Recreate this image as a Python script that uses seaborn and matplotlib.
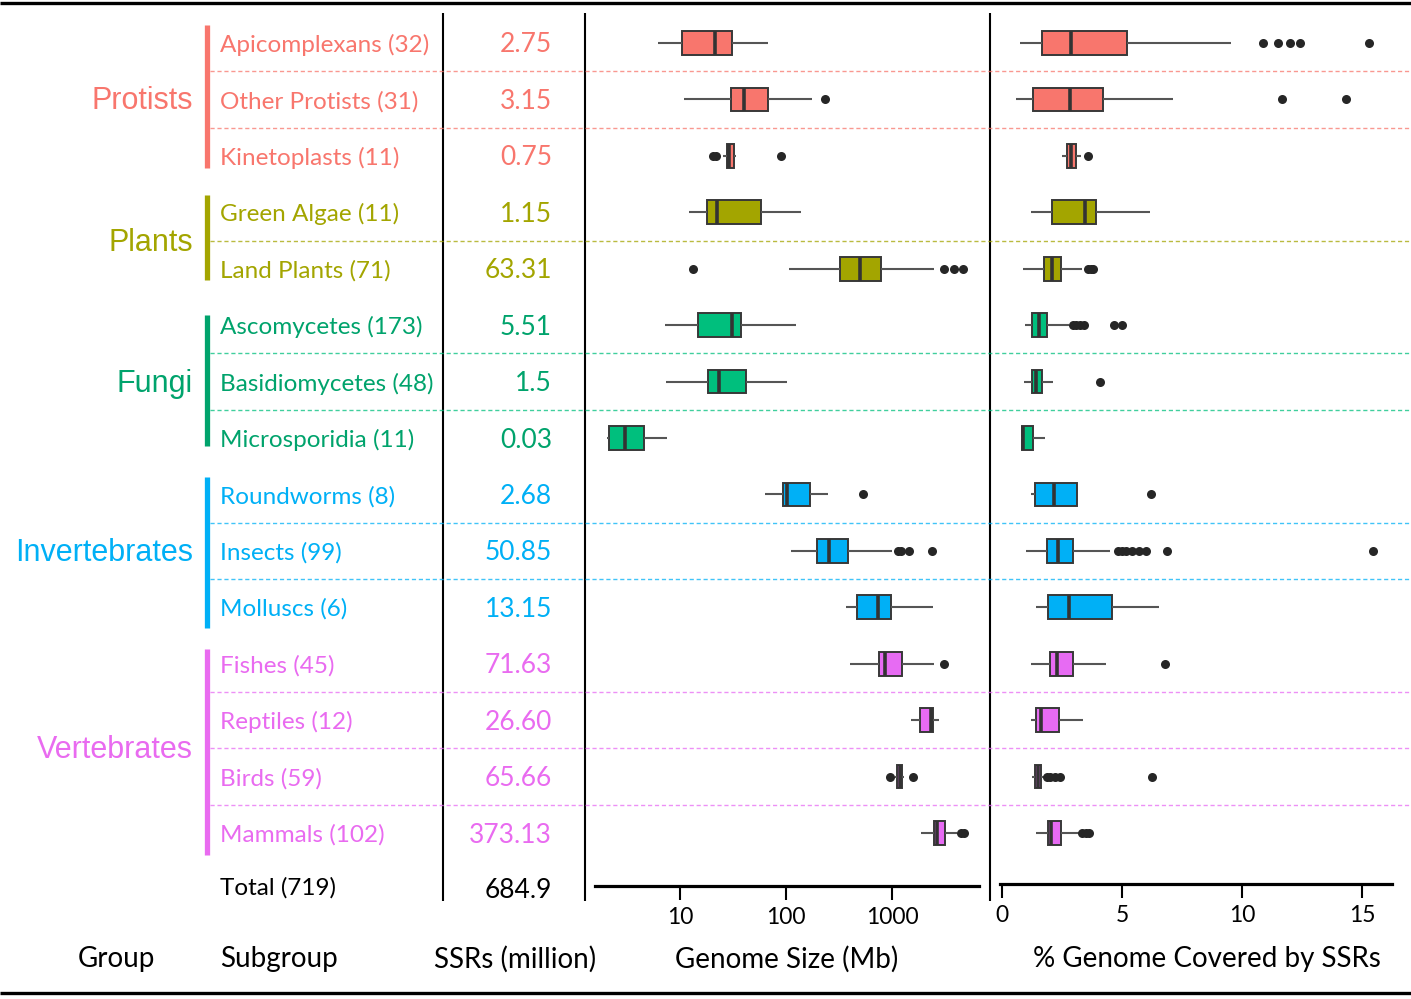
import matplotlib
matplotlib.use("Agg")
import matplotlib.pyplot as plt
from matplotlib.ticker import NullLocator
import pandas as pd
import seaborn as sns

# ---------------------------------------------------------------- data
groups = ["Protists", "Plants", "Fungi", "Invertebrates", "Vertebrates"]
group_text_colors = ["#F8766D", "#A3A500", "#00A36C", "#00B0F6", "#E96BF0"]
group_box_colors = ["#F8766D", "#A3A500", "#00BF7D", "#00B0F6", "#E76BF3"]

subgroups = ["Apicomplexans", "Other Protists", "Kinetoplasts",
             "Green Algae", "Land Plants",
             "Ascomycetes", "Basidiomycetes", "Microsporidia",
             "Roundworms", "Insects", "Molluscs",
             "Fishes", "Reptiles", "Birds", "Mammals"]
subgroup_group = [0, 0, 0, 1, 1, 2, 2, 2, 3, 3, 3, 4, 4, 4, 4]
genome_counts = [32, 31, 11, 11, 71, 173, 48, 11, 8, 99, 6, 45, 12, 59, 102]
ssr_million = ["2.75", "3.15", "0.75", "1.15", "63.31", "5.51", "1.5", "0.03",
               "2.68", "50.85", "13.15", "71.63", "26.60", "65.66", "373.13"]
total_genomes = 719
total_ssr = "684.9"

# genome size (Mb): whisker low, Q1, median, Q3, whisker high
genome_size_summary = [
    (6.2, 10.4, 21.4, 30.9, 67.6),
    (10.9, 30.3, 40.2, 67.6, 176),
    (25.5, 27.8, 29.0, 32.3, 34.0),
    (12.2, 18.0, 22.3, 58.1, 138),
    (107, 323, 499, 787, 2490),
    (7.2, 14.7, 30.8, 37.6, 124),
    (7.4, 18.4, 23.3, 42.0, 102),
    (2.05, 2.14, 3.03, 4.57, 7.5),
    (63.4, 93.8, 102, 168, 249),
    (111, 196, 254, 385, 1000),
    (368, 468, 738, 979, 2440),
    (402, 754, 859, 1242, 2490),
    (1510, 1836, 2350, 2437, 2776),
    (1067, 1114, 1189, 1242, 1297),
    (1879, 2489, 2660, 3163, 4103),
]
genome_size_outliers = [
    [], [233], [20.5, 21.9, 89.8], [], [13.3, 3090, 3850, 4680],
    [], [], [], [532], [1140, 1217, 1446, 2384],
    [], [3090], [], [957, 1577], [4480, 4780],
]

# % genome covered by SSRs: whisker low, Q1, median, Q3, whisker high
ssr_cover_summary = [
    (0.75, 1.68, 2.86, 5.19, 9.54),
    (0.60, 1.31, 2.83, 4.21, 7.11),
    (2.50, 2.69, 2.86, 3.07, 3.29),
    (1.19, 2.10, 3.46, 3.90, 6.17),
    (0.875, 1.75, 2.08, 2.44, 3.35),
    (0.94, 1.24, 1.54, 1.89, 2.80),
    (0.90, 1.24, 1.40, 1.67, 2.14),
    (0.79, 0.85, 0.87, 1.31, 1.80),
    (1.22, 1.39, 2.15, 3.13, 3.13),
    (1.01, 1.89, 2.35, 2.97, 4.50),
    (1.42, 1.92, 2.79, 4.60, 6.54),
    (1.22, 2.01, 2.30, 2.96, 4.35),
    (1.22, 1.40, 1.61, 2.38, 3.39),
    (1.24, 1.39, 1.51, 1.63, 1.75),
    (1.42, 1.93, 2.05, 2.47, 3.25),
]
ssr_cover_outliers = [
    [10.88, 11.49, 11.99, 12.43, 15.3], [11.65, 14.33], [3.58], [],
    [3.6, 3.7, 3.8],
    [2.97, 3.1, 3.25, 3.4, 4.67, 5.01], [4.1], [],
    [6.21], [4.85, 5.0, 5.15, 5.4, 5.71, 6.0, 6.87, 15.46], [],
    [6.79], [], [1.86, 2.0, 2.2, 2.4, 6.26], [3.32, 3.5, 3.62],
]

column_headers = ["Group", "Subgroup", "SSRs (million)",
                  "Genome Size (Mb)", "% Genome Covered by SSRs"]

# ---------------------------------------------------------------- style
sns.set_style("white")
plt.rcParams["font.family"] = ["Lato", "DejaVu Sans"]
GROUP_FONT = ["Liberation Sans", "DejaVu Sans"]

W, H = 1411, 999
fig = plt.figure(figsize=(W / 100, H / 100), dpi=100)

# pixel-space canvas for the table part
bg = fig.add_axes([0, 0, 1, 1], zorder=0)
bg.set_xlim(0, W)
bg.set_ylim(H, 0)
bg.axis("off")

ROW0, ROW_STEP = 43.0, 56.43
TXT_DY = 2.0  # optical centring of text on a row


def row_y(i):
    return ROW0 + ROW_STEP * i


# table frame lines
bg.plot([0, W], [2.5, 2.5], color="black", lw=2.4, solid_capstyle="butt")
bg.plot([0, W], [993, 993], color="black", lw=2.4, solid_capstyle="butt")
for xv in (443, 585, 990):
    bg.plot([xv, xv], [13, 901], color="black", lw=1.5, solid_capstyle="butt")

# group labels and side bars
bar_spans = [(25, 168), (195, 280), (315, 446), (477, 628), (649, 855)]
for g, name in enumerate(groups):
    rows = [i for i, gg in enumerate(subgroup_group) if gg == g]
    yc = (row_y(rows[0]) + row_y(rows[-1])) / 2
    bg.text(193, yc + TXT_DY, name, ha="right", va="center", fontsize=22,
            color=group_text_colors[g], family=GROUP_FONT)
    top, bot = bar_spans[g]
    bg.plot([206.5, 206.5], [top, bot], color=group_text_colors[g], lw=3.8,
            solid_capstyle="butt")
    # dashed separators between subgroups of the same group
    for a, b in zip(rows[:-1], rows[1:]):
        ys = (row_y(a) + row_y(b)) / 2
        bg.plot([210, W], [ys, ys], color=group_box_colors[g], lw=1.0,
                alpha=0.75, dashes=(3, 2))

# subgroup names and SSR counts
for i, (name, n, s) in enumerate(zip(subgroups, genome_counts, ssr_million)):
    col = group_text_colors[subgroup_group[i]]
    bg.text(220, row_y(i) + TXT_DY, f"{name} ({n})", ha="left", va="center",
            fontsize=17.5, color=col)
    bg.text(552, row_y(i) + TXT_DY, s, ha="right", va="center", fontsize=19,
            color=col)

bg.text(220, 888, f"Total ({total_genomes})", ha="left", va="center",
        fontsize=17.5, color="black")
bg.text(552, 890, total_ssr, ha="right", va="center", fontsize=19,
        color="black")

# column headers
header_pos = [(116, "center"), (220, "left"), (515, "center"),
              (787, "center"), (1207, "center")]
for text, (xh, ha) in zip(column_headers, header_pos):
    bg.text(xh, 959, text, ha=ha, va="center", fontsize=20, color="black")


# ---------------------------------------------------------------- box panels
palette = {s: group_box_colors[g] for s, g in zip(subgroups, subgroup_group)}


def long_frame(summary):
    recs = [(s, v) for s, five in zip(subgroups, summary) for v in five]
    return pd.DataFrame(recs, columns=["subgroup", "value"])


def outlier_frame(outs):
    recs = [(s, v) for s, vals in zip(subgroups, outs) for v in vals]
    return pd.DataFrame(recs, columns=["subgroup", "value"])


def px_axes(x0, x1, y_top, y_bot):
    return fig.add_axes([x0 / W, 1 - y_bot / H, (x1 - x0) / W, (y_bot - y_top) / H],
                        zorder=2)


def draw_panel(ax, summary, outs, log):
    sns.boxplot(data=long_frame(summary), x="value", y="subgroup",
                hue="subgroup", order=subgroups, hue_order=subgroups,
                palette=palette, saturation=1, whis=(0, 100), width=0.42,
                showfliers=False, showcaps=False, linecolor="#383838",
                linewidth=1.4, legend=False, log_scale=log, ax=ax,
                medianprops=dict(color="#333333", linewidth=2.6),
                whiskerprops=dict(color="#555555", linewidth=1.5))
    sns.stripplot(data=outlier_frame(outs), x="value", y="subgroup",
                  order=subgroups, jitter=False, color="#262626", size=6.5,
                  linewidth=0, log_scale=log, ax=ax)
    ax.patch.set_alpha(0)
    for side in ("top", "right", "left"):
        ax.spines[side].set_visible(False)
    ax.spines["bottom"].set_linewidth(2.3)
    ax.spines["bottom"].set_color("black")
    ax.set_yticks([])
    ax.set_xlabel("")
    ax.set_ylabel("")
    ax.xaxis.set_minor_locator(NullLocator())
    ax.tick_params(axis="x", direction="out", length=10, width=1.5,
                   colors="black", labelsize=16.5, pad=5, bottom=True)


ax_g = px_axes(595, 978.5, 14.8, 886)
draw_panel(ax_g, genome_size_summary, genome_size_outliers, True)
ax_g.set_ylim((886 - ROW0) / ROW_STEP, -0.5)
ax_g.set_xlim(10 ** (1 + (595 - 680) / 106), 10 ** (1 + (978.5 - 680) / 106))
ax_g.set_xticks([10, 100, 1000])
ax_g.set_xticklabels(["10", "100", "1000"])
ax_g.xaxis.set_minor_locator(NullLocator())

ax_c = px_axes(1000, 1392, 14.8, 884)
draw_panel(ax_c, ssr_cover_summary, ssr_cover_outliers, False)
ax_c.set_ylim((884 - ROW0) / ROW_STEP, -0.5)
ax_c.set_xlim((1000 - 1002) / 24, (1392 - 1002) / 24)
ax_c.set_xticks([0, 5, 10, 15])
ax_c.set_xticklabels(["0", "5", "10", "15"])

fig.savefig("out.png", dpi=100)
